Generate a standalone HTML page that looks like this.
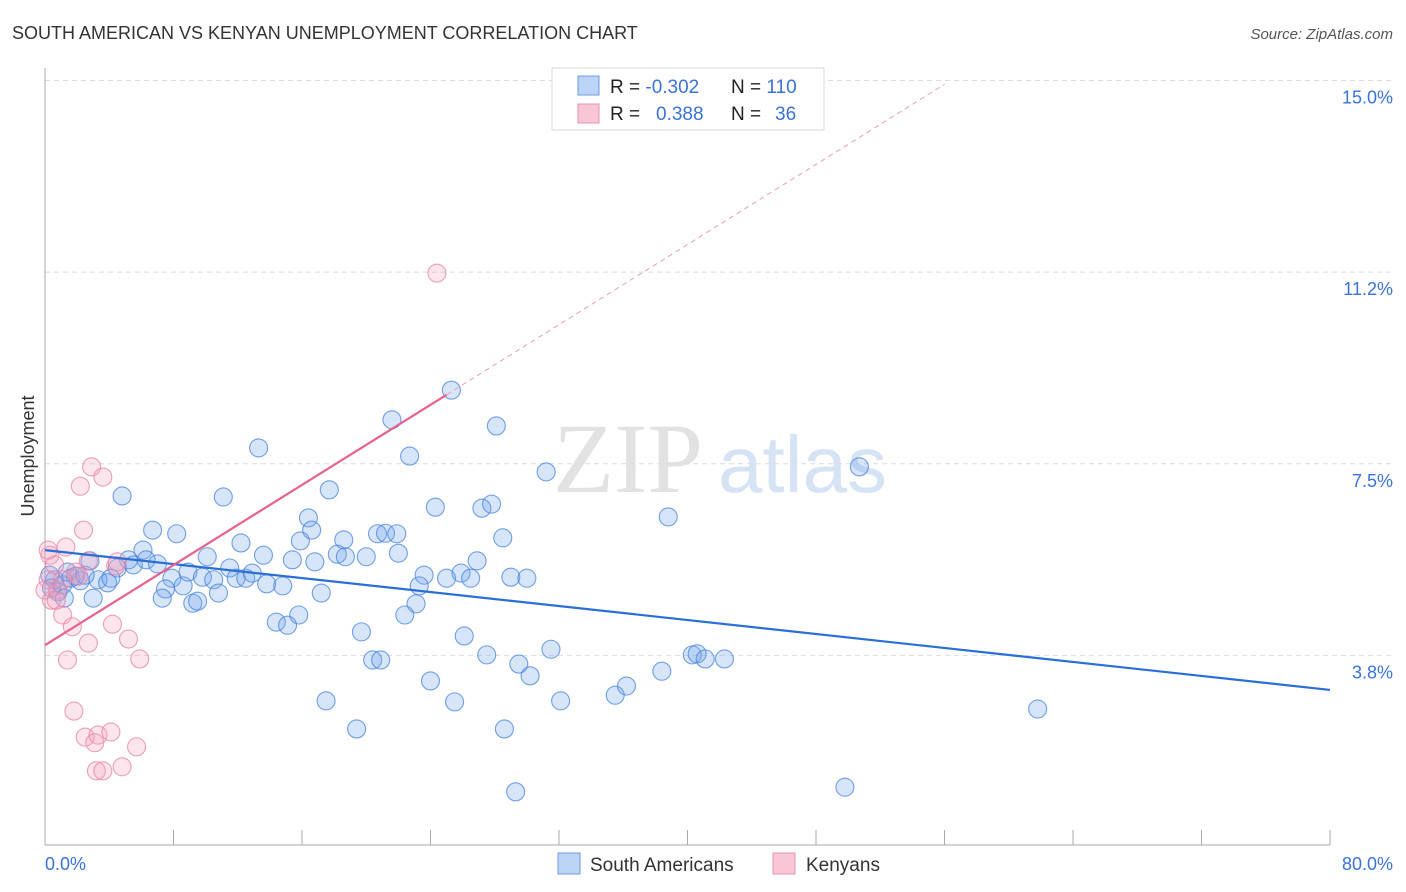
<!DOCTYPE html>
<html><head><meta charset="utf-8"><style>
body{margin:0;background:#fff;font-family:"Liberation Sans",sans-serif}
svg{display:block}
</style></head><body>
<svg width="1406" height="892" viewBox="0 0 1406 892" xmlns="http://www.w3.org/2000/svg">
<text x="12" y="39" font-size="18" fill="#333">SOUTH AMERICAN VS KENYAN UNEMPLOYMENT CORRELATION CHART</text>
<text x="1393" y="39" font-size="15" font-style="italic" fill="#555" text-anchor="end">Source: ZipAtlas.com</text>
<g>
<text x="553" y="492" font-family="Liberation Serif,serif" font-size="100" fill="#e2e2e2">ZIP</text>
<text x="718" y="492" font-size="80" fill="#d6e3f5">atlas</text>
</g>
<g id="grid"></g>
<g id="axes"></g>
<g id="marks"></g>
<text transform="translate(34,456) rotate(-90)" font-size="18" fill="#333" text-anchor="middle">Unemployment</text>
<text x="45" y="870" font-size="18" fill="#3a72d8">0.0%</text>
<text x="1393" y="870" font-size="18" fill="#3a72d8" text-anchor="end">80.0%</text>
<g>
<rect x="552" y="68" width="272" height="62" fill="#fff" stroke="#d8d8d8"/>
<rect x="578" y="76" width="21" height="19" fill="#bcd4f6" stroke="#6d9be0"/>
<rect x="578" y="104" width="21" height="19" fill="#f9c6d5" stroke="#e890aa"/>
<text x="610" y="93" font-size="19" fill="#222">R = <tspan fill="#3a72d8">-0.302</tspan></text>
<text x="731" y="93" font-size="19" fill="#222">N = <tspan fill="#3a72d8">110</tspan></text>
<text x="610" y="120" font-size="19" fill="#222">R = <tspan fill="#3a72d8" x="656">0.388</tspan></text>
<text x="731" y="120" font-size="19" fill="#222">N = <tspan fill="#3a72d8" x="775">36</tspan></text>
</g>
<g>
<rect x="558" y="853" width="22" height="21" fill="#bcd4f6" stroke="#6d9be0"/>
<text x="590" y="871" font-size="19" fill="#333">South Americans</text>
<rect x="773" y="853" width="22" height="21" fill="#f9c6d5" stroke="#e890aa"/>
<text x="806" y="871" font-size="19" fill="#333">Kenyans</text>
</g>
</svg>
<script>
const yTicks=[3.75,7.5,11.25,15];
const yTickLabels=["3.8%","7.5%","11.2%","15.0%"];
const xTicks=[0,8,16,24,32,40,48,56,64,72,80];
const blueX=[25.3,21.6,28.1,13.3,22.7,31.2,50.7,4.8,11.1,17.7,24.3,27.2,27.8,38.8,6.7,8.2,16.4,16.6,12.2,15.9,18.6,20.7,21.2,21.9,28.5,6.1,5.2,4.5,5.5,6.3,7.0,10.1,13.6,15.4,16.8,18.2,18.7,20.0,22.0,26.9,8.9,7.9,9.8,10.5,11.5,11.9,12.5,12.9,13.8,14.8,23.6,23.3,25.0,25.9,26.5,29.0,30.0,3.3,3.9,4.1,7.5,8.6,10.8,7.3,9.2,9.5,17.2,3.0,23.1,22.4,15.8,14.4,15.1,19.7,26.1,31.5,27.5,40.3,40.6,41.1,42.3,20.4,20.9,29.5,30.2,38.4,36.2,35.5,24.0,25.5,17.5,32.1,61.8,19.4,28.6,29.3,49.8,0.6,1.1,1.6,1.9,2.2,0.3,0.8,1.2,2.5,0.4,1.4,2.8];
const blueY=[8.94,8.36,8.24,7.81,7.65,7.34,7.44,6.87,6.85,6.99,6.65,6.63,6.71,6.46,6.20,6.13,6.44,6.20,5.95,5.99,6.01,6.13,6.14,6.13,6.05,5.81,5.62,5.46,5.52,5.62,5.54,5.68,5.71,5.62,5.58,5.73,5.68,5.68,5.75,5.60,5.38,5.26,5.28,5.23,5.46,5.26,5.26,5.36,5.15,5.11,5.32,5.11,5.26,5.36,5.26,5.28,5.26,5.23,5.17,5.26,5.05,5.11,4.97,4.87,4.77,4.81,4.97,4.87,4.76,4.54,4.54,4.40,4.34,4.21,4.13,3.87,3.76,3.76,3.78,3.68,3.68,3.66,3.66,3.58,3.35,3.44,3.15,2.97,3.25,2.84,2.86,2.86,2.70,2.31,2.31,1.08,1.17,5.23,5.13,5.26,5.30,5.21,5.32,4.99,4.87,5.32,5.07,5.38,5.60];
const pinkX=[24.4,2.9,3.6,2.2,2.4,1.3,2.7,0.3,0.6,1.9,0.2,0.4,0.8,2.1,1.1,4.2,1.7,5.2,2.7,1.4,5.9,1.8,2.5,3.3,4.1,3.1,5.7,3.2,3.6,4.8,0.2,1.1,4.4,4.5,0.0,0.7];
const pinkY=[11.23,7.44,7.24,7.06,6.20,5.87,5.60,5.71,5.52,5.38,5.23,4.83,5.03,5.30,4.54,4.36,4.31,4.07,3.99,3.66,3.68,2.66,2.15,2.19,2.25,2.04,1.96,1.49,1.49,1.57,5.81,5.23,5.50,5.58,5.03,4.83];
const blueTrend=[5.81,-0.0342]; // intercept, slope
const pinkTrend=[3.95,0.196];
const X=v=>45+v*1285/80, Y=v=>847-v*51.1;
const NS="http://www.w3.org/2000/svg";
function mk(p,t,a){const e=document.createElementNS(NS,t);for(const k in a)e.setAttribute(k,a[k]);p.appendChild(e);return e;}
const grid=document.getElementById('grid'),axes=document.getElementById('axes'),marks=document.getElementById('marks');
yTicks.forEach((t,i)=>{
 const l=mk(grid,'line',{x1:45,x2:1395,y1:Y(t),y2:Y(t),stroke:'#dcdcdc','stroke-dasharray':'5,4'});
 
 
 const tx=mk(grid,'text',{x:1393,y:Y(t)+23,'font-size':18,fill:'#3a72d8','text-anchor':'end'});
 tx.textContent=yTickLabels[i];
 
 
});
const ax=mk(axes,'line',{x1:45,x2:45,y1:68,y2:845,stroke:'#aaa'});


const bx=mk(axes,'line',{x1:45,x2:1330,y1:845,y2:845,stroke:'#aaa'});


xTicks.forEach(t=>{
 const l=mk(axes,'line',{x1:X(t),x2:X(t),y1:830,y2:845,stroke:'#aaa'});
 
 
});
blueX.forEach((x,i)=>{
 const c=mk(marks,'circle',{cx:X(x),cy:Y(blueY[i]),r:9,fill:'rgba(110,160,235,0.28)',stroke:'rgba(70,130,220,0.75)','stroke-width':1.1});
 
 
});
pinkX.forEach((x,i)=>{
 const c=mk(marks,'circle',{cx:X(x),cy:Y(pinkY[i]),r:9,fill:'rgba(245,160,190,0.28)',stroke:'rgba(230,130,165,0.75)','stroke-width':1.1});
 
 
});
const bl=mk(marks,'line',{x1:X(0),y1:Y(blueTrend[0]),x2:X(80),y2:Y(blueTrend[0]+80*blueTrend[1]),stroke:'#2a6fd6','stroke-width':2.2});


const pl=mk(marks,'line',{x1:X(0),y1:Y(pinkTrend[0]),x2:X(25),y2:Y(pinkTrend[0]+25*pinkTrend[1]),stroke:'#e5638e','stroke-width':2.2});


const pd=mk(marks,'line',{x1:X(25),y1:Y(pinkTrend[0]+25*pinkTrend[1]),x2:X(56),y2:Y(pinkTrend[0]+56*pinkTrend[1]),stroke:'#e8a0b8','stroke-width':1,'stroke-dasharray':'5,4'});


</script>
</body></html>
